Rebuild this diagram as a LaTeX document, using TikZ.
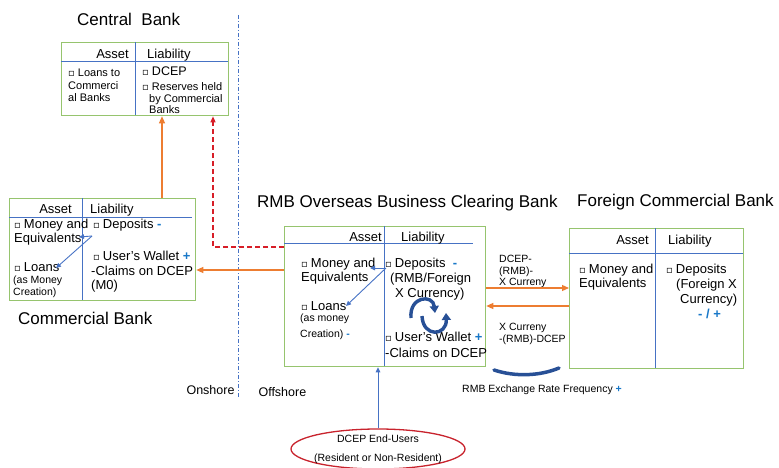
\documentclass[tikz,border=0pt]{standalone}
\usepackage{fontspec}
\setmainfont{Liberation Sans}
\newfontfamily\symfont{DejaVu Sans}
\usetikzlibrary{arrows.meta,positioning,calc,shapes.geometric}

\definecolor{ledgergreen}{RGB}{150,196,110}
\definecolor{ruleblue}{RGB}{70,114,196}
\definecolor{signblue}{RGB}{25,120,200}
\definecolor{swapblue}{RGB}{40,80,150}
\definecolor{flow}{RGB}{237,125,49}
\definecolor{reserve}{RGB}{215,30,40}
\definecolor{ovalred}{RGB}{200,35,45}

\newcommand\sqb{{\symfont\fontsize{10}{10}\selectfont ▫}\hspace{3pt}}
\newcommand\up{\textcolor{signblue}{\textbf{+}}}
\newcommand\dn{\textcolor{signblue}{\textbf{-}}}

% multi-line entries hang from the baseline of their last line
\tikzset{
  ledger/.style={draw=ledgergreen, line width=1.3pt, anchor=north west, inner sep=0pt},
  colrule/.style={draw=ruleblue, line width=0.9pt},
  bankname/.style={font=\fontsize{17}{20}\selectfont, anchor=base west, inner sep=0pt},
  colhead/.style={font=\fontsize{13}{15}\selectfont, inner sep=0pt},
  entry/.style={font=\fontsize{13}{14}\selectfont, align=left, anchor=base west, inner sep=0pt},
  note/.style={font=\fontsize{10.5}{12}\selectfont, align=left, anchor=base west, inner sep=0pt},
  flowarrow/.style={draw=flow, line width=1.2pt, -{Triangle[length=7pt,width=6pt]}},
  reservearrow/.style={draw=reserve, line width=1.2pt, dash pattern=on 5pt off 3pt,
                       -{Triangle[length=6pt,width=5pt]}},
  innerarrow/.style={draw=ruleblue, line width=0.9pt, -{Triangle[length=5pt,width=4.5pt]}},
  swap/.style={draw=swapblue, line width=3.4pt, -{Triangle[length=7pt,width=9pt]}},
}

\begin{document}
\begin{tikzpicture}[x=1pt, y=-1pt]
\useasboundingbox (0,0) rectangle (779,468);

% onshore / offshore split
\draw[draw=ruleblue, line width=1pt, dash pattern=on 4pt off 2pt on 1pt off 2pt]
  (238,15) -- (238,398);
\node[font=\fontsize{12.5}{14}\selectfont, anchor=base west] (onshore) at (183,394.5) {Onshore};
\node[font=\fontsize{12.5}{14}\selectfont, anchor=base west] (offshore) at (255,396) {Offshore};

% central bank
\node[bankname] (cbname) at (77,26) {Central\ \ Bank};
\node[ledger, minimum width=167pt, minimum height=73pt] (cb) at (61,42) {};
\draw[colrule] (61,61) -- (228,61) (135,42) -- (135,115);
\node[colhead, anchor=base east] (cbasset) at (129,58.5) {Asset};
\node[colhead, anchor=base west] (cbliab) at (147,58.5) {Liability};
\node[entry, font=\fontsize{11}{12.5}\selectfont] (cbloans) at (68,102) {\sqb Loans to\\Commerci\\al Banks};
\node[entry, font=\fontsize{12.5}{14}\selectfont] (cbdcep) at (142,75.5) {\sqb DCEP};
\node[entry, font=\fontsize{11}{12}\selectfont] (cbres) at (142,114)
  {\sqb Reserves held\\\hspace{7pt}by Commercial\\\hspace{7pt}Banks};

% commercial bank
\node[ledger, minimum width=186pt, minimum height=102pt] (cbank) at (9,198) {};
\draw[colrule] (9,217) -- (192,217) (82,198) -- (82,300);
\node[colhead, anchor=base east] (cbkasset) at (72,213.5) {Asset};
\node[colhead, anchor=base west] (cbkliab) at (90,213.5) {Liability};
\node[entry] (cbkmoney) at (14,242.5) {\sqb Money and\\Equivalents};
\node[entry] (cbkloans) at (14,271.5) {\sqb Loans};
\node[note] (cbkcreate) at (13,295.7) {(as Money\\Creation)};
\node[entry] (cbkdep) at (93,228.5) {\sqb Deposits \dn};
\node[entry, font=\fontsize{13}{14.5}\selectfont] (cbkwallet) at (91,289.5)
  {\hspace{2pt}\sqb User's Wallet \up\\-Claims on DCEP\\(M0)};
\node[bankname] (cbkname) at (18,324) {Commercial Bank};

\coordinate (cbksplit) at (92,236);
\coordinate (cbkeq) at (79,237);
\coordinate (cbkln) at (56,268);
\draw[innerarrow] (cbksplit) -- (cbkeq);
\draw[innerarrow] (cbksplit) -- (cbkln);

% clearing bank
\node[bankname] (clname) at (257,207) {RMB Overseas Business Clearing Bank};
\node[ledger, minimum width=201pt, minimum height=140pt] (clearing) at (284,226) {};
\draw[colrule] (284,243) -- (473,243) (384,226) -- (384,366);
\node[colhead, anchor=base east] (classet) at (382,241.5) {Asset};
\node[colhead, anchor=base west] (clliab) at (401,241.5) {Liability};
\node[entry] (clmoney) at (301,281.5) {\sqb Money and\\Equivalents};
\node[entry] (clloans) at (301,310.5) {\sqb Loans};
\node[note, font=\fontsize{10.5}{16}\selectfont] (clcreate) at (300,337.7) {(as money\\Creation) \dn};
\node[entry, font=\fontsize{13}{15}\selectfont] (cldep) at (385,297.5)
  {\sqb Deposits\ \ \dn\\\hspace{5pt}(RMB/Foreign\\\hspace{10pt}X Currency)};
\node[entry, font=\fontsize{13}{16}\selectfont] (clwallet) at (385,357.5)
  {\sqb User's Wallet \up\\-Claims on DCEP};

\coordinate (clsplit) at (386,268);
\coordinate (cleq) at (370,268);
\coordinate (clln) at (346,306);
\draw[innerarrow] (clsplit) -- (cleq);
\draw[innerarrow] (clsplit) -- (clln);

\draw[swap] (411,318) .. controls (409,296) and (433,294) .. (435,313);
\draw[swap] (422,316) .. controls (423,338) and (447,336) .. (446,313);

% foreign commercial bank
\node[bankname] (fcname) at (577,206) {Foreign Commercial Bank};
\node[ledger, minimum width=174pt, minimum height=140pt] (foreign) at (569,228) {};
\draw[colrule] (569,253) -- (743,253) (655,228) -- (655,368);
\node[colhead, anchor=base east] (fcasset) at (649,244.5) {Asset};
\node[colhead, anchor=base west] (fcliab) at (668,244.5) {Liability};
\node[entry] (fcmoney) at (579,287.5) {\sqb Money and\\Equivalents};
\node[entry, font=\fontsize{13}{15}\selectfont] (fcdep) at (666,303.5)
  {\sqb Deposits\\\hspace{10pt}(Foreign X\\\hspace{14pt}Currency)};
\node[entry] (fcsign) at (698,318) {\textcolor{signblue}{\textbf{- / +}}};

% exchange between clearing and foreign bank
\coordinate (fxout) at (0,288);
\coordinate (fxin) at (0,306);
\node[note, font=\fontsize{10.5}{11.5}\selectfont] (fxoutlbl) at (499,285.7) {DCEP-\\(RMB)-\\X Curreny};
\node[note] (fxinlbl) at (499,342.7) {X Curreny\\-(RMB)-DCEP};
\draw[flowarrow] (clearing.east |- fxout) -- (foreign.west |- fxout);
\draw[flowarrow] (foreign.west |- fxin) -- (clearing.east |- fxin);

\draw[draw=swapblue, line width=3.5pt, line cap=round]
  (494,370) .. controls (515,377) and (540,376) .. (559,368);
\node[note] (fxrate) at (462,392.7) {RMB Exchange Rate Frequency \up};

% flows back onshore
\coordinate (cbfeed) at (162,0);
\coordinate (rsvbend) at (213,247);
\coordinate (walletflow) at (0,270);
\draw[flowarrow] (cbank.north -| cbfeed) -- (cb.south -| cbfeed);
\draw[reservearrow] (clearing.west |- rsvbend) -- (rsvbend) -- (rsvbend |- cb.south);
\draw[flowarrow] (clearing.west |- walletflow) -- (cbank.east |- walletflow);

% end users
\node[draw=ovalred, line width=1.3pt, ellipse, minimum width=174pt, minimum height=40pt,
      inner sep=0pt] (users) at (378,449) {};
\node[font=\fontsize{10.5}{19}\selectfont, align=center] (userstext) at (users.center)
  {DCEP End-Users\\(Resident or Non-Resident)};
\draw[innerarrow, line width=1pt] (users.north) -- (users.north |- clearing.south);

\end{tikzpicture}
\end{document}
